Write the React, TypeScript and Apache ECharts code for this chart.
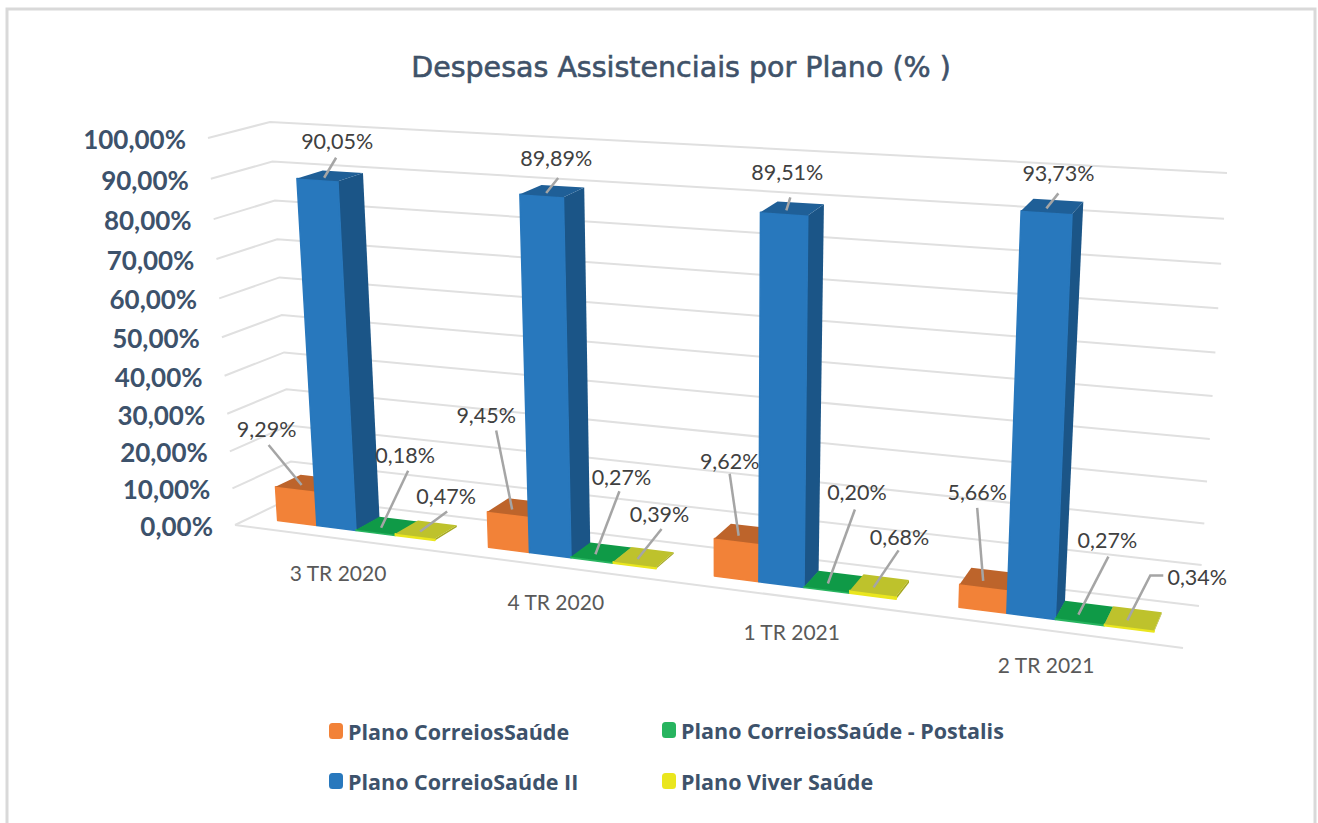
import React, { useEffect, useRef } from "react";
import * as echarts from "echarts";

const titleText = "Despesas Assistenciais por Plano (% )";
const categories = ["3 TR 2020", "4 TR 2020", "1 TR 2021", "2 TR 2021"];
const yTicks = [0, 10, 20, 30, 40, 50, 60, 70, 80, 90, 100];
const yTickLabels = ["0,00%", "10,00%", "20,00%", "30,00%", "40,00%", "50,00%", "60,00%", "70,00%", "80,00%", "90,00%", "100,00%"];

const seriesNames = ["Plano CorreiosSaúde", "Plano CorreioSaúde II", "Plano CorreiosSaúde - Postalis", "Plano Viver Saúde"];
const correiosSaude = [9.29, 9.45, 9.62, 5.66];
const correioSaudeII = [90.05, 89.89, 89.51, 93.73];
const postalis = [0.18, 0.27, 0.2, 0.27];
const viverSaude = [0.47, 0.39, 0.68, 0.34];
const seriesValues = [correiosSaude, correioSaudeII, postalis, viverSaude];

const faceColors = [
  { front: "#F28238", top: "#BD642B", side: "#A85526" },
  { front: "#2878BD", top: "#1F5F97", side: "#1B5587" },
  { front: "#27B45F", top: "#0F9A47", side: "#0B7A38" },
  { front: "#EAE61E", top: "#BEC22C", side: "#A5A822" },
];

// leader outer end relative to the bar-top anchor, per series then category
const leaderEnds = [
  [[-33, -40], [-16, -79], [-9, -62], [-6, -73]],
  [[12, -20], [12, -15], [4, -13], [12, -15]],
  [[27, -57], [24, -63], [27, -74], [30, -58]],
  [[27, -20], [24, -30], [25, -37], [23, -45]],
];
const labelShift = [
  [[-2, -16], [-10, -15], [0, -13], [0, -16]],
  [[1, -17], [-2, -20], [-3, -25], [0, -20]],
  [[-3, -16], [2, -14], [2, -18], [-1, -17]],
  [[-1, -16], [-2, -15], [1, -13], [47, 2]],
];

const FONT = "Lato";
const GRID = { left: 100, top: 100, width: 1000, height: 400 };
const BAR_GROUP = 0.75;
const DEPTH_NEAR = 0.28;
const DEPTH_FAR = 0.72;

// Room corners on the page: floor front, floor back, ceiling front, ceiling back
const CORNERS = {
  ffl: [235, 525], ffr: [1183, 648], fbl: [293, 497], fbr: [1199, 606],
  tfl: [208, 138], tfr: [1207, 202], tbl: [270, 122], tbr: [1227, 173],
};
const mix = (a: number[], b: number[], k: number) => [a[0] + (b[0] - a[0]) * k, a[1] + (b[1] - a[1]) * k];

// grid pixel + depth -> page pixel in the tilted 3D room
function project(px: number, py: number, depth: number) {
  const u0 = (px - GRID.left) / GRID.width;
  const t0 = (GRID.top + GRID.height - py) / GRID.height;
  const u = 0.852 * u0 + 0.148 * u0 * u0 + 0.055 * u0 * Math.pow(1 - u0, 6);
  const t = t0 + 0.06 * (t0 * t0 - t0);
  const bottom = mix(mix(CORNERS.ffl, CORNERS.ffr, u), mix(CORNERS.fbl, CORNERS.fbr, u), depth);
  const top = mix(mix(CORNERS.tfl, CORNERS.tfr, u), mix(CORNERS.tbl, CORNERS.tbr, u), depth);
  return mix(bottom, top, t);
}

function barRenderer(seriesIndex: number) {
  return (params: any, api: any) => {
    const cat = api.value(0);
    const val = api.value(1);
    const band = api.size([1, 0])[0];
    const barW = (band * BAR_GROUP) / 4;
    const [cx, y0] = api.coord([cat, 0]);
    const y1 = api.coord([cat, val])[1];
    const x0 = cx + (seriesIndex - 2) * barW;
    const x1 = x0 + barW;
    const colors = faceColors[seriesIndex];

    const fl0 = project(x0, y0, DEPTH_NEAR);
    const fr0 = project(x1, y0, DEPTH_NEAR);
    const br0 = project(x1, y0, DEPTH_FAR);
    const fl1 = project(x0, y1, DEPTH_NEAR);
    const fr1 = project(x1, y1, DEPTH_NEAR);
    const br1 = project(x1, y1, DEPTH_FAR);
    const bl1 = project(x0, y1, DEPTH_FAR);

    const anchorBase = project((x0 + x1) / 2, y1, (DEPTH_NEAR + DEPTH_FAR) / 2);
    const anchor = [anchorBase[0] - 6, anchorBase[1] + 2];
    const endOff = leaderEnds[seriesIndex][cat];
    const end = [anchor[0] + endOff[0], anchor[1] + endOff[1]];
    const textOff = labelShift[seriesIndex][cat];
    const leaderPoints = seriesIndex === 3 && cat === 3
      ? [anchor, end, [end[0] + 13, end[1]]]
      : [anchor, end];

    return {
      type: "group",
      children: [
        { type: "polygon", shape: { points: [fr0, br0, br1, fr1] }, style: { fill: colors.side } },
        { type: "polygon", shape: { points: [fl0, fr0, fr1, fl1] }, style: { fill: colors.front, stroke: colors.front, lineWidth: 1.5, lineJoin: "round" } },
        { type: "polygon", shape: { points: [fl1, fr1, br1, bl1] }, style: { fill: colors.top } },
        { type: "polyline", shape: { points: leaderPoints }, style: { stroke: "#A5A5A5", lineWidth: 2.5, fill: "none" } },
        {
          type: "text",
          style: {
            text: api.value(1).toFixed(2).replace(".", ",") + "%",
            x: end[0] + textOff[0],
            y: end[1] + textOff[1],
            align: "center",
            verticalAlign: "middle",
            fill: "#404040",
            font: `400 21.5px ${FONT}`,
          },
        },
      ],
    };
  };
}

function gridRenderer(params: any, api: any) {
  const i = params.dataIndex;
  const y = api.coord([0, api.value(1)])[1];
  const xl = GRID.left;
  const xr = GRID.left + GRID.width;
  const frontLeft = project(xl, y, 0);
  const backLeft = project(xl, y, 1);
  const backRight = project(xr, y, 1);
  const children: any[] = [
    { type: "polyline", shape: { points: [frontLeft, backLeft, backRight] }, style: { stroke: "#E0E0E0", lineWidth: 2, fill: "none" } },
    {
      type: "text",
      style: {
        text: yTickLabels[i],
        x: frontLeft[0] - 22,
        y: frontLeft[1] + 1,
        align: "right",
        verticalAlign: "middle",
        fill: "#3D526B",
        font: `700 26px ${FONT}`,
      },
    },
  ];
  if (i === 0) {
    children.push({
      type: "polyline",
      shape: { points: [frontLeft, project(xr, y, 0)] },
      style: { stroke: "#E0E0E0", lineWidth: 2, fill: "none" },
    });
  }
  return { type: "group", children };
}

function categoryRenderer(params: any, api: any) {
  const [cx, y0] = api.coord([api.value(0), 0]);
  const p = project(cx, y0, 0);
  return {
    type: "text",
    style: {
      text: categories[params.dataIndex],
      x: p[0] - 3,
      y: p[1] + 34,
      align: "center",
      verticalAlign: "middle",
      fill: "#595959",
      font: `400 21px ${FONT}`,
    },
  };
}

export default function App() {
  const ref = useRef<HTMLDivElement>(null);
  useEffect(() => {
    document.body.style.margin = "0";
    const chart = echarts.init(ref.current!, null, { renderer: "svg" });
    const legendSpots = [
      { left: 324, top: 715 },
      { left: 324, top: 765 },
      { left: 657, top: 714 },
      { left: 657, top: 765 },
    ];
    chart.setOption({
      animation: false,
      backgroundColor: "#FFFFFF",
      title: {
        text: titleText,
        left: 676,
        top: 48,
        textAlign: "center",
        textStyle: {
          color: "#3F5269",
          fontFamily: "DejaVu Sans",
          fontWeight: 400,
          fontSize: 28.5,
          textBorderColor: "#3F5269",
          textBorderWidth: 0.6,
        },
      },
      graphic: [
        {
          type: "rect",
          shape: { x: 7, y: 9, width: 1308, height: 830 },
          style: { fill: "none", stroke: "#D9D9D9", lineWidth: 3 },
          silent: true,
        },
      ],
      legend: seriesNames.map((name, i) => ({
        data: [name],
        left: legendSpots[i].left,
        top: legendSpots[i].top,
        icon: "roundRect",
        itemWidth: 14,
        itemHeight: 16,
        selectedMode: false,
        textStyle: { color: "#3D526B", fontFamily: "Open Sans", fontWeight: 700, fontSize: 21.5 },
      })),
      grid: { ...GRID, containLabel: false },
      xAxis: { type: "category", data: categories, show: false },
      yAxis: { type: "value", min: 0, max: 100, interval: 10, show: false },
      series: [
        {
          type: "custom",
          name: "grid",
          renderItem: gridRenderer,
          data: yTicks.map((v) => [0, v]),
          encode: { x: 0, y: 1 },
          silent: true,
          clip: false,
        },
        {
          type: "custom",
          name: "categories",
          renderItem: categoryRenderer,
          data: categories.map((_, i) => [i, 0]),
          encode: { x: 0, y: 1 },
          silent: true,
          clip: false,
        },
        ...seriesNames.map((name, s) => ({
          type: "custom",
          name,
          renderItem: barRenderer(s),
          data: seriesValues[s].map((v, c) => [c, v]),
          encode: { x: 0, y: 1 },
          itemStyle: { color: faceColors[s].front },
          clip: false,
        })),
      ],
    });
    return () => chart.dispose();
  }, []);
  return <div ref={ref} style={{ width: 1318, height: 823 }} />;
}
